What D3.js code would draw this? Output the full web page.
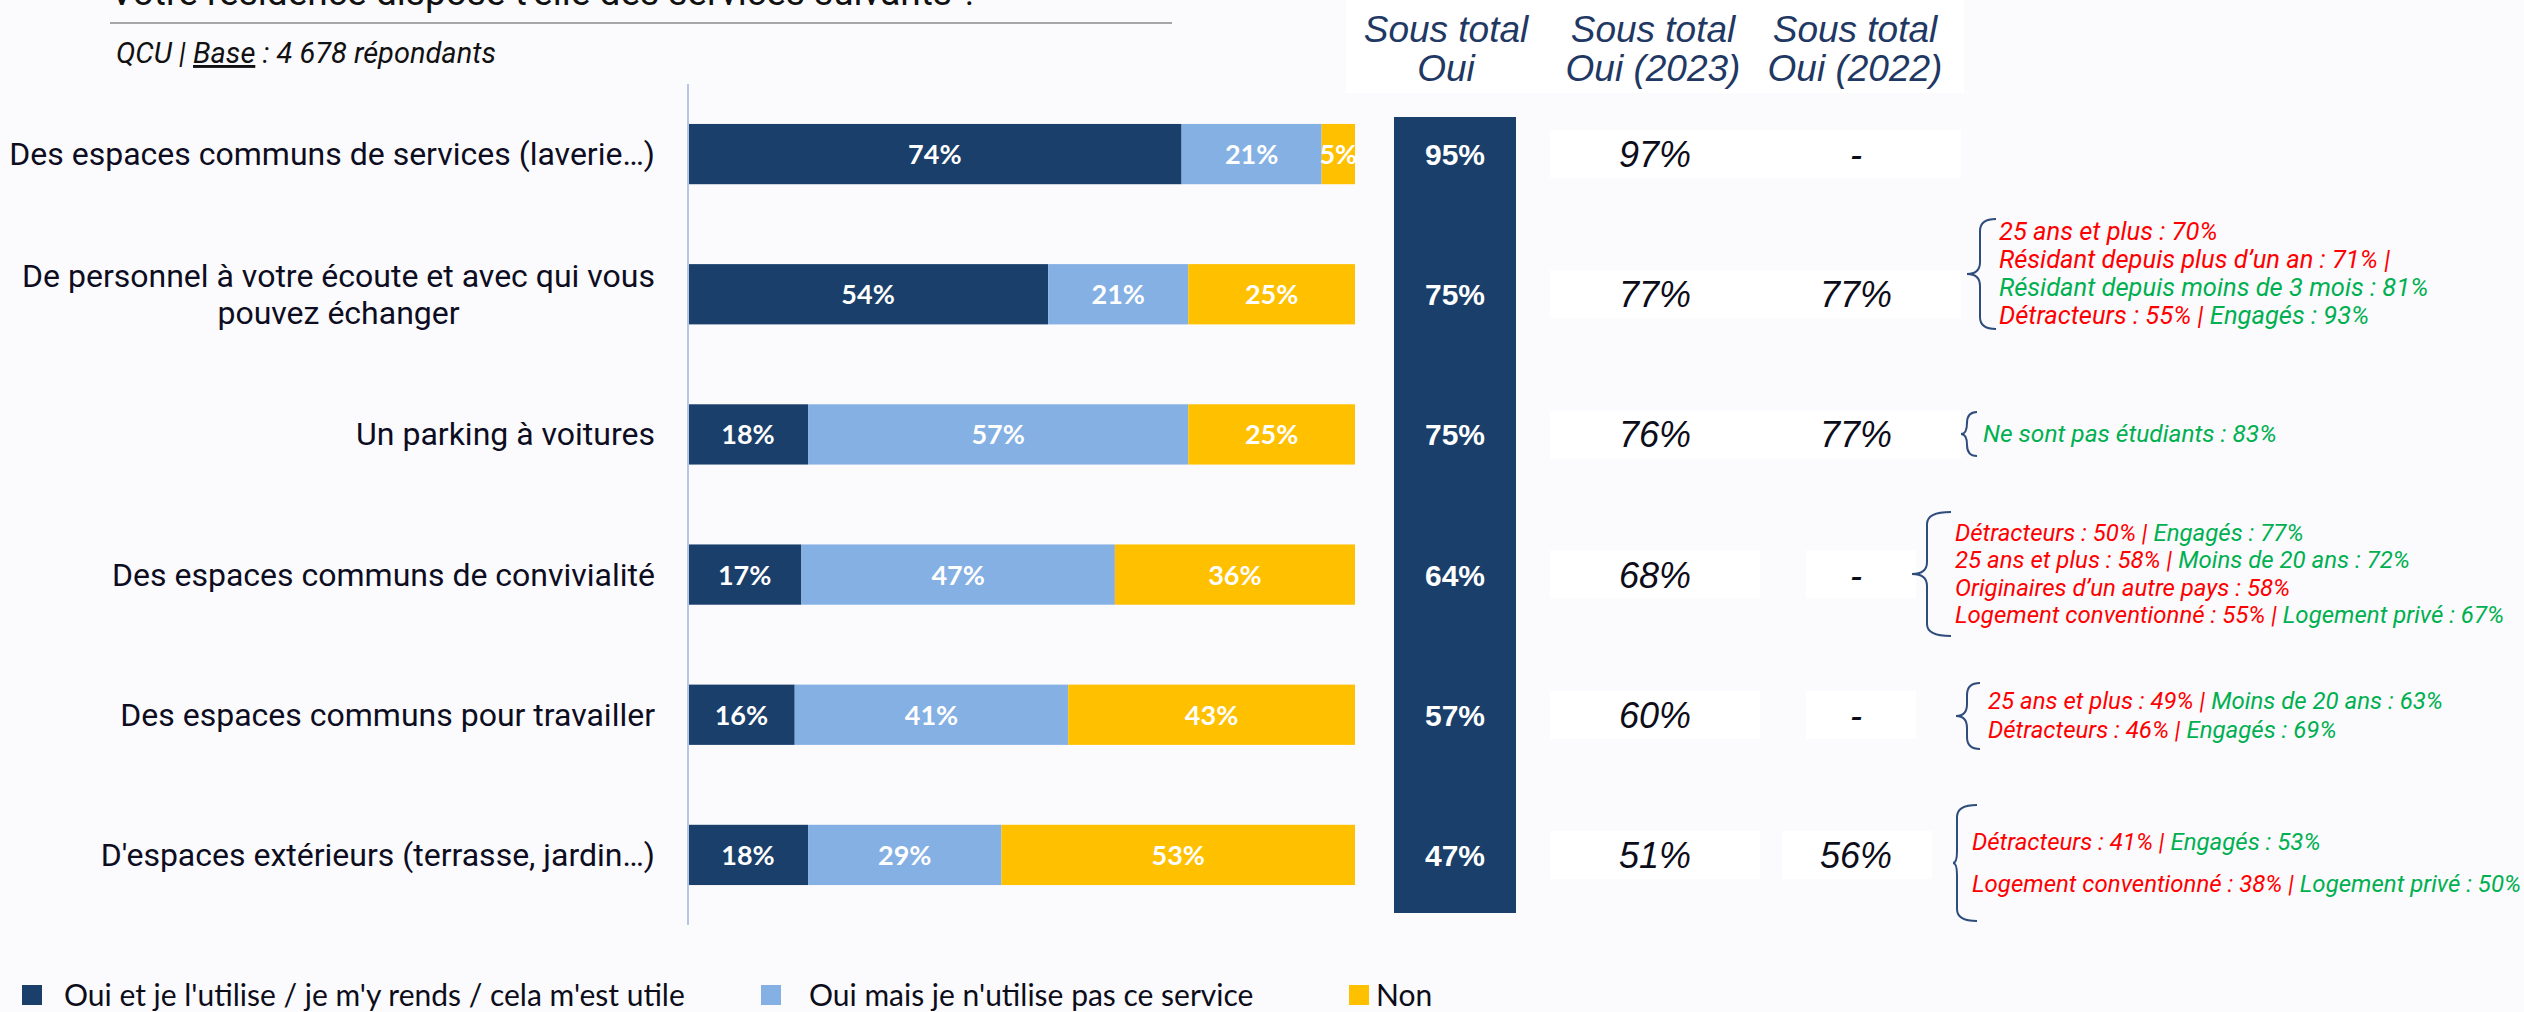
<!DOCTYPE html>
<html>
<head>
<meta charset="utf-8">
<script src="https://cdn.jsdelivr.net/npm/d3@7"></script>
<style>
  body { margin:0; background:#fbfbfe; }
  svg { display:block; }
</style>
</head>
<body>
<div class="canvas"></div>
<script>
//DATA
const categories = [
  'Des espaces communs de services (laverie…)',
  'De personnel à votre écoute et avec qui vous|pouvez échanger',
  'Un parking à voitures',
  'Des espaces communs de convivialité',
  'Des espaces communs pour travailler',
  "D'espaces extérieurs (terrasse, jardin…)"
];
const ouiUtilise = [74, 54, 18, 17, 16, 18];
const ouiPasUtilise = [21, 21, 57, 47, 41, 29];
const non = [5, 25, 25, 36, 43, 53];
const sousTotalOui = [95, 75, 75, 64, 57, 47];
const sousTotal2023 = ['97%', '77%', '76%', '68%', '60%', '51%'];
const sousTotal2022 = ['-', '77%', '77%', '-', '-', '56%'];
const seriesNames = ["Oui et je l'utilise / je m'y rends / cela m'est utile", "Oui mais je n'utilise pas ce service", 'Non'];
const headers = ['Sous total|Oui', 'Sous total|Oui (2023)', 'Sous total|Oui (2022)'];

// annotations : one list of lines per row, each line = segments [text, r|g]
const annotations = [
  null,
  [[['25 ans et plus : 70%', 'r']],
   [['Résidant depuis plus d’un an : 71% |', 'r']],
   [['Résidant depuis moins de 3 mois : 81%', 'g']],
   [['Détracteurs : 55% | ', 'r'], ['Engagés : 93%', 'g']]],
  [[['Ne sont pas étudiants : 83%', 'g']]],
  [[['Détracteurs : 50% | ', 'r'], ['Engagés : 77%', 'g']],
   [['25 ans et plus : 58% | ', 'r'], ['Moins de 20 ans : 72%', 'g']],
   [['Originaires d’un autre pays : 58%', 'r']],
   [['Logement conventionné : 55% | ', 'r'], ['Logement privé : 67%', 'g']]],
  [[['25 ans et plus : 49% | ', 'r'], ['Moins de 20 ans : 63%', 'g']],
   [['Détracteurs : 46% | ', 'r'], ['Engagés : 69%', 'g']]],
  [[['Détracteurs : 41% | ', 'r'], ['Engagés : 53%', 'g']],
   [['Logement conventionné : 38% | ', 'r'], ['Logement privé : 50%', 'g']]]
];

//LAYOUT
var w = 2524, h = 1012;
var colors = ['#1a3f6b', '#84b0e3', '#ffc000'];
var annColor = { r:'#ff0000', g:'#00b050' };
// brace geometry per row: mid y, tip x, stem x, end x, half height, text x, line spacing, font size
var braceLayout = [
  null,
  { mid:274, tip:1967, vx:1980, end:1996, half:55, tx:1999, sp:28, fs:25.5 },
  { mid:434, tip:1961, vx:1967, end:1977, half:22, tx:1983, sp:28, fs:24.5 },
  { mid:574, tip:1912, vx:1927, end:1951, half:62, tx:1955, sp:27.5, fs:24 },
  { mid:716, tip:1956, vx:1967, end:1980, half:33, tx:1988, sp:29, fs:24 },
  { mid:863, tip:1953, vx:1957, end:1977, half:58, tx:1972, sp:42, fs:24 }
];

const canvas = d3.select('.canvas');
const svg = canvas.append('svg')
  .attr('width', w)
  .attr('height', h);

svg.append('rect').attr('width', w).attr('height', h).attr('fill', '#fbfbfe');

//SCALES
var y = d3.scaleBand()
  .domain(categories)
  .range([84, 925])
  .paddingInner(0.57)
  .paddingOuter(0.285);
var x = d3.scaleLinear().domain([0, 100]).range([688, 1355]);
var rowMid = d => y(d) + y.bandwidth() / 2;

//TITLE (cut at top)
svg.append('text')
  .attr('x', 110).attr('y', 5)
  .style('font-family', 'Roboto').style('font-size', '37px')
  .attr('fill', '#111')
  .text('Votre résidence dispose t’elle des services suivants ?');

svg.append('line')
  .attr('x1', 110).attr('x2', 1172).attr('y1', 23).attr('y2', 23)
  .attr('stroke', '#a6a6a6').attr('stroke-width', 2);

var sub = svg.append('text')
  .attr('x', 116).attr('y', 63)
  .style('font-family', 'Roboto').style('font-size', '29px').style('font-style', 'italic')
  .attr('fill', '#111');
sub.append('tspan').text('QCU | ');
sub.append('tspan').attr('text-decoration', 'underline').text('Base');
sub.append('tspan').text(' : 4 678 répondants');

//STACKED BARS
var rows = categories.map((c, i) => ({ cat:c, a:ouiUtilise[i], b:ouiPasUtilise[i], c:non[i] }));
var stack = d3.stack().keys(['a', 'b', 'c'])(rows);

var layers = svg.append('g').selectAll('g')
  .data(stack).enter().append('g')
  .attr('fill', (d, i) => colors[i]);

layers.selectAll('rect')
  .data(d => d).enter().append('rect')
  .attr('x', d => x(d[0]))
  .attr('y', d => y(d.data.cat))
  .attr('width', d => x(d[1]) - x(d[0]))
  .attr('height', y.bandwidth());

layers.selectAll('text')
  .data(d => d).enter().append('text')
  .attr('x', d => (x(d[0]) + x(d[1])) / 2)
  .attr('y', d => rowMid(d.data.cat) + 10)
  .attr('text-anchor', 'middle')
  .style('font-family', 'Lato').style('font-weight', 'bold').style('font-size', '27px')
  .attr('fill', '#fff')
  .text(d => (d[1] - d[0]) + '%');

//AXIS LINE
svg.append('line')
  .attr('x1', 688).attr('x2', 688).attr('y1', 84).attr('y2', 925)
  .attr('stroke', '#b4c7e7').attr('stroke-width', 2);

//CATEGORY LABELS
var labels = svg.append('g').selectAll('text')
  .data(categories).enter().append('text')
  .style('font-family', 'Roboto').style('font-size', '32px')
  .attr('fill', '#0d0d1f');
labels.each(function(d) {
  var lines = d.split('|');
  var t = d3.select(this);
  var cy = rowMid(d) + 11 - (lines.length - 1) * 37 / 2;
  lines.forEach((l, k) => {
    t.append('tspan').attr('y', cy + k * 37).text(l);
  });
  var maxW = d3.max(t.selectAll('tspan').nodes(), n => n.getComputedTextLength());
  t.attr('text-anchor', 'middle');
  t.selectAll('tspan').attr('x', 655 - maxW / 2);
});

//HEADER BOX
svg.append('rect').attr('x', 1346).attr('y', 0).attr('width', 618).attr('height', 93).attr('fill', '#fff');
var headX = [1446, 1653, 1855];
headers.forEach((hd, i) => {
  var t = svg.append('text')
    .attr('text-anchor', 'middle')
    .style('font-family', 'Liberation Sans').style('font-style', 'italic').style('font-size', '37px')
    .attr('fill', '#1f3864');
  hd.split('|').forEach((l, k) => {
    t.append('tspan').attr('x', headX[i]).attr('y', 42 + k * 39).text(l);
  });
});

//SOUS TOTAL OUI COLUMN
svg.append('rect')
  .attr('x', 1394).attr('y', 117).attr('width', 122).attr('height', 796)
  .attr('fill', colors[0]);
svg.append('g').selectAll('text')
  .data(sousTotalOui).enter().append('text')
  .attr('x', 1455)
  .attr('y', (d, i) => rowMid(categories[i]) + 11)
  .attr('text-anchor', 'middle')
  .style('font-family', 'Liberation Sans').style('font-weight', 'bold').style('font-size', '30px')
  .attr('fill', '#fff')
  .text(d => d + '%');

//PREVIOUS YEARS (white cells)
var cells = svg.append('g');
categories.forEach((c, i) => {
  var cy = rowMid(c);
  if (i < 3) {
    cells.append('rect').attr('x', 1550).attr('y', cy - 24).attr('width', 411).attr('height', 48).attr('fill', '#fff');
  } else {
    cells.append('rect').attr('x', 1550).attr('y', cy - 24).attr('width', 210).attr('height', 48).attr('fill', '#fff');
    var bx = i === 5 ? 1782 : 1806, bw = i === 5 ? 150 : 110;
    cells.append('rect').attr('x', bx).attr('y', cy - 24).attr('width', bw).attr('height', 48).attr('fill', '#fff');
  }
});
[sousTotal2023, sousTotal2022].forEach((arr, j) => {
  svg.append('g').selectAll('text')
    .data(arr).enter().append('text')
    .attr('x', j === 0 ? 1655 : 1856)
    .attr('y', (d, i) => rowMid(categories[i]) + 13)
    .attr('text-anchor', 'middle')
    .style('font-family', 'Liberation Sans').style('font-style', 'italic').style('font-size', '36px')
    .attr('fill', '#0d0d1a')
    .text(d => d);
});

//ANNOTATIONS WITH BRACES
annotations.forEach((ann, i) => {
  if (!ann) return;
  var L = braceLayout[i];
  var r = Math.min(12, L.half / 2);
  var p = d3.path();
  p.moveTo(L.end, L.mid - L.half);
  p.quadraticCurveTo(L.vx, L.mid - L.half, L.vx, L.mid - L.half + r);
  p.lineTo(L.vx, L.mid - r);
  p.quadraticCurveTo(L.vx, L.mid, L.tip, L.mid);
  p.quadraticCurveTo(L.vx, L.mid, L.vx, L.mid + r);
  p.lineTo(L.vx, L.mid + L.half - r);
  p.quadraticCurveTo(L.vx, L.mid + L.half, L.end, L.mid + L.half);
  svg.append('path').attr('d', p.toString())
    .attr('fill', 'none').attr('stroke', '#2e4c7c').attr('stroke-width', 2);

  ann.forEach((line, k) => {
    var t = svg.append('text')
      .attr('x', L.tx)
      .attr('y', L.mid + (k - (ann.length - 1) / 2) * L.sp + L.fs * 0.33)
      .style('font-family', 'Roboto').style('font-style', 'italic').style('font-size', L.fs + 'px');
    line.forEach(seg => {
      t.append('tspan').attr('fill', annColor[seg[1]]).style('white-space', 'pre').text(seg[0]);
    });
  });
});

//LEGEND
var legX = [22, 761, 1349];
var legTx = [42, 48, 27];
var leg = svg.append('g').selectAll('g')
  .data(seriesNames).enter().append('g')
  .attr('transform', (d, i) => 'translate(' + legX[i] + ',985)');
leg.append('rect').attr('width', 20).attr('height', 20).attr('fill', (d, i) => colors[i]);
leg.append('text')
  .attr('x', (d, i) => legTx[i]).attr('y', 21)
  .style('font-family', 'Lato').style('font-size', '30px')
  .attr('fill', '#0d0d1a')
  .text(d => d);
</script>
</body>
</html>
